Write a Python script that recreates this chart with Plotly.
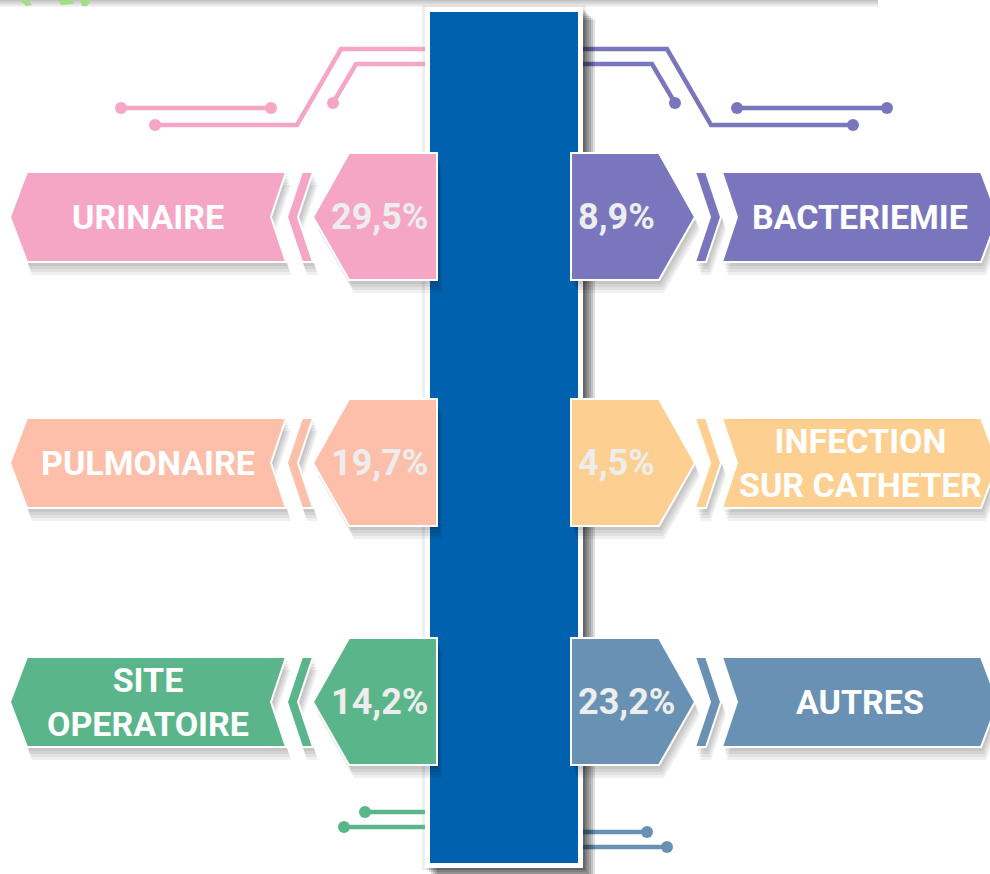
import plotly.graph_objects as go

# ---- data ----
left_labels = ["URINAIRE", "PULMONAIRE", "SITE<br>OPERATOIRE"]
left_values = [29.5, 19.7, 14.2]
left_colors = ["#F6A6C5", "#FDBFAA", "#5AB68A"]
right_labels = ["BACTERIEMIE", "INFECTION<br>SUR CATHETER", "AUTRES"]
right_values = [8.9, 4.5, 23.2]
right_colors = ["#7A76BE", "#FDCF90", "#6991B3"]

# ---- layout constants ----
W, H = 990, 874
CX = 504
ROW_Y = [217, 463, 702]
PILLAR = "#0062AE"
PCT_TEXT = "#EDEDED"


def fmt(v):
    return f"{v:.1f}".replace(".", ",") + "%"


def mirror(pts):
    return [(2 * CX - x, y) for x, y in pts]


def to_path(pts):
    return "M " + " L ".join(f"{x},{y}" for x, y in pts) + " Z"


shapes = []


def poly(pts, fill, line_color="white", lw=2, opacity=1.0):
    shapes.append(dict(type="path", path=to_path(pts), xref="x", yref="y",
                       fillcolor=fill, opacity=opacity, layer="above",
                       line=dict(color=line_color, width=lw)))


def rect(x0, y0, x1, y1, fill, opacity=1.0):
    shapes.append(dict(type="rect", x0=x0, y0=y0, x1=x1, y1=y1, xref="x", yref="y",
                       fillcolor=fill, opacity=opacity, layer="above",
                       line=dict(width=0)))


def shadow(pts, layers=((2, 4), (3, 7), (4, 10), (5, 13))):
    for dx, dy in layers:
        poly([(x + dx, y + dy) for x, y in pts], "black", lw=0, opacity=0.06)


def label_pts(cy):
    return [(10, cy), (27, cy - 45), (286, cy - 45), (271, cy), (286, cy + 45), (27, cy + 45)]


def strip_pts(cy):
    return [(302, cy - 45), (313, cy - 45), (298, cy), (313, cy + 45), (302, cy + 45), (287, cy)]


def pct_pts(cy):
    return [(313, cy), (349, cy - 64), (437, cy - 64), (437, cy + 63), (349, cy + 63)]


fig = go.Figure()

# ---- circuit lines (behind the pillar) ----
pink, purple = left_colors[0], right_colors[0]
green, steel = left_colors[2], right_colors[2]
top_left_lines = [
    [(425, 49), (341, 49), (297, 125), (155, 125)],
    [(425, 64), (356, 64), (333, 103)],
    [(121, 108), (271, 108)],
]
top_left_dots = [(155, 125), (333, 103), (121, 108), (271, 108)]
circuits = []
for ln in top_left_lines:
    circuits.append((ln, pink))
    circuits.append((mirror(ln), purple))
bottom_left_lines = [[(365, 812), (432, 812)], [(344, 827), (432, 827)]]
bottom_right_lines = [[(576, 832), (647, 832)], [(576, 847), (667, 847)]]
for ln in bottom_left_lines:
    circuits.append((ln, green))
for ln in bottom_right_lines:
    circuits.append((ln, steel))

for ln, col in circuits:
    fig.add_trace(go.Scatter(x=[p[0] for p in ln], y=[p[1] for p in ln], mode="lines",
                             line=dict(color=col, width=4.5), hoverinfo="skip", showlegend=False))

dots = [(top_left_dots, pink), (mirror(top_left_dots), purple),
        ([(365, 812), (344, 827)], green), ([(647, 832), (667, 847)], steel)]
for pts, col in dots:
    fig.add_trace(go.Scatter(x=[p[0] for p in pts], y=[p[1] for p in pts], mode="markers",
                             marker=dict(color=col, size=12, line=dict(width=0)),
                             hoverinfo="skip", showlegend=False))

# ---- top decoration (shadow of an element above) ----
for y1 in (1, 2.5, 4, 5.5, 7):
    rect(-20, -20, 878, y1, "black", 0.05)
for pts in ([(20, 0), (28, 0), (32, 5), (26, 6)],
            [(58, 0), (71, 0), (74, 4), (61, 5)],
            [(80, 0), (91, 0), (87, 6), (82, 6)]):
    poly(pts, "#A3DD86", lw=0)

# ---- pillar with shadow ----
rect(422, 5, 586, 870, "#B0B0B0", 0.2)
for o in (2, 4, 6, 8, 10, 12):
    rect(425 + o, 8 + o, 583 + o, 868 + o, "black", 0.13)
rect(425, 7, 583, 868, "white")
rect(430, 12, 578, 863, PILLAR)

# ---- arrows ----
for i, cy in enumerate(ROW_Y):
    lp, sp, pp = label_pts(cy), strip_pts(cy), pct_pts(cy)
    for pts, col in ((lp, left_colors[i]), (sp, left_colors[i]), (pp, left_colors[i])):
        shadow(pts)
        poly(pts, col)
    for pts, col in ((mirror(lp), right_colors[i]), (mirror(sp), right_colors[i]),
                     (mirror(pp), right_colors[i])):
        shadow(pts)
        poly(pts, col)

# ---- texts ----
annotations = []
FONT = "Roboto"
for i, cy in enumerate(ROW_Y):
    annotations.append(dict(x=148, y=cy, text=left_labels[i], showarrow=False,
                            xanchor="center", yanchor="middle",
                            font=dict(family=FONT, size=34, color="white", weight="bold")))
    annotations.append(dict(x=430, y=cy, text=fmt(left_values[i]), showarrow=False,
                            xanchor="right", yanchor="middle",
                            font=dict(family=FONT, size=36, color=PCT_TEXT, weight="bold")))
    annotations.append(dict(x=2 * CX - 148, y=cy, text=right_labels[i], showarrow=False,
                            xanchor="center", yanchor="middle",
                            font=dict(family=FONT, size=34, color="white", weight="bold")))
    annotations.append(dict(x=576, y=cy, text=fmt(right_values[i]), showarrow=False,
                            xanchor="left", yanchor="middle",
                            font=dict(family=FONT, size=36, color=PCT_TEXT, weight="bold")))

fig.update_layout(
    width=W, height=H, margin=dict(l=0, r=0, t=0, b=0),
    paper_bgcolor="white", plot_bgcolor="white",
    xaxis=dict(range=[0, W], visible=False, fixedrange=True),
    yaxis=dict(range=[H, 0], visible=False, fixedrange=True),
    shapes=shapes, annotations=annotations, showlegend=False,
)

fig.write_html("out.html", config={"displayModeBar": False},
               post_script="document.body.style.margin='0';document.body.style.overflow='hidden';")
